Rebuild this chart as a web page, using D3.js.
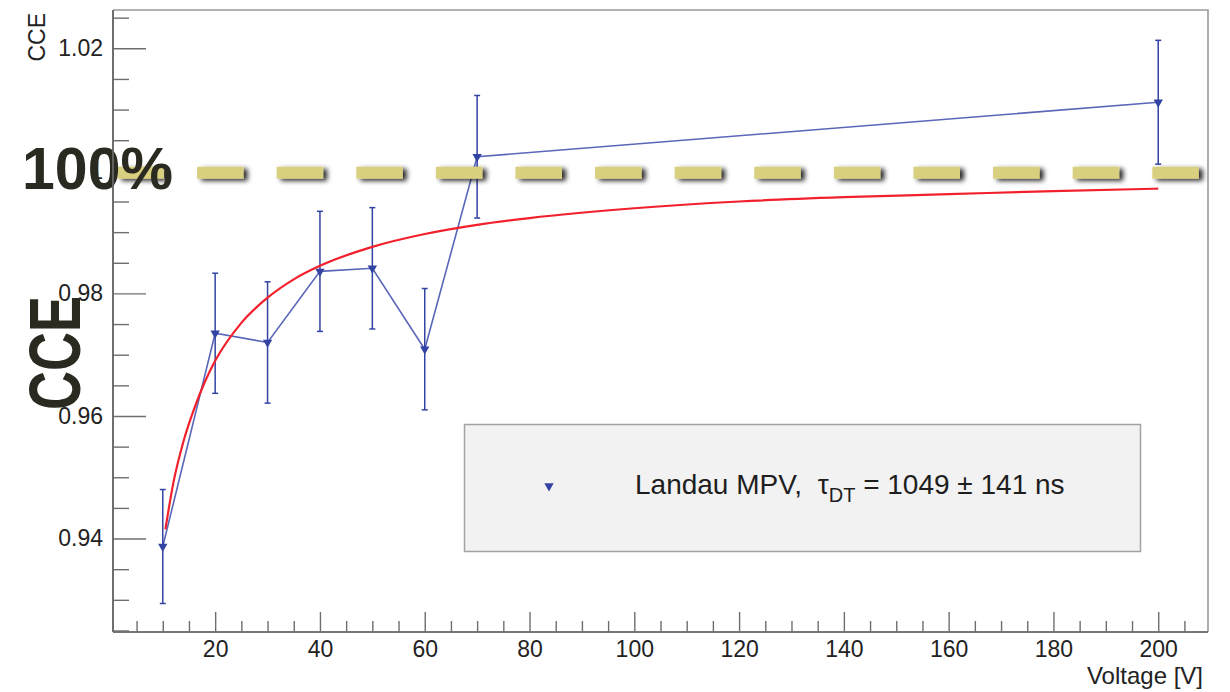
<!DOCTYPE html>
<html>
<head>
<meta charset="utf-8">
<script src="https://cdn.jsdelivr.net/npm/d3@7"></script>
<style>
  html, body { margin: 0; padding: 0; background: #fff; }
  svg { display: block; font-family: "Liberation Sans", Arial, sans-serif; }
</style>
</head>
<body>
<svg id="chart" width="1230" height="692"></svg>
<script>
// ---- data ----
const voltages = [10, 20, 30, 40, 50, 60, 70, 200];
const cceValues = [0.9387, 0.9735, 0.9720, 0.9836, 0.9841, 0.9709, 1.0023, 1.0112];
const cceErrors = [0.0093, 0.0098, 0.0099, 0.0098, 0.0099, 0.0099, 0.0100, 0.0101];

// fitted curve
const fitVoltages = [10.5, 12, 14, 16, 18, 20, 25, 30, 35, 40, 50, 60, 70, 80, 100, 120, 140, 160, 180, 200];
const fitValues = [0.9415, 0.9490, 0.9560, 0.9612, 0.9655, 0.9690, 0.9752, 0.9793, 0.9823, 0.9845,
                   0.9876, 0.9897, 0.9912, 0.9923, 0.9939, 0.9950, 0.9957, 0.9962, 0.9967, 0.9971];

const xMajorTicks = [20, 40, 60, 80, 100, 120, 140, 160, 180, 200];
const yMajorTicks = [0.94, 0.96, 0.98, 1.00, 1.02];
const yTickLabels = ["0.94", "0.96", "0.98", "1", "1.02"];
const referenceLevel = 1.00;
const referenceLabel = "100%";
const xTitle = "Voltage [V]";
const yTitle = "CCE";
const bigYTitle = "CCE";
const legendMain = "Landau MPV,  τ";
const legendSub = "DT";
const legendTail = " = 1049 ± 141 ns";

// ---- layout ----
const svg = d3.select("#chart");
const L = 113, R = 1208, T = 10, B = 632;
const x = d3.scaleLinear().domain([0.5, 209.5]).range([L, R]);
const y = d3.scaleLinear().domain([0.92475, 1.02625]).range([B, T]);

const defs = svg.append("defs");
const f = defs.append("filter").attr("id", "dashShadow")
  .attr("filterUnits", "userSpaceOnUse")
  .attr("x", 0).attr("y", 0).attr("width", 1230).attr("height", 692);
f.append("feGaussianBlur").attr("in", "SourceAlpha").attr("stdDeviation", 2.6).attr("result", "b");
f.append("feOffset").attr("in", "b").attr("dx", 4).attr("dy", 2).attr("result", "o");
f.append("feComponentTransfer").attr("in", "o").attr("result", "o2")
  .append("feFuncA").attr("type", "linear").attr("slope", 0.85);
const fm = f.append("feMerge");
fm.append("feMergeNode").attr("in", "o2");
fm.append("feMergeNode").attr("in", "SourceGraphic");

const axisColor = "#6e6e6e";
const tickFont = "23px";

// frame (top & right)
svg.append("path")
  .attr("d", `M${L},${T}H${R}V${B}`)
  .attr("fill", "none").attr("stroke", "#9a9a9a").attr("stroke-width", 1.6);

// x axis
const xMinor = d3.range(5, 210, 5).filter(v => !xMajorTicks.includes(v));
const gx = svg.append("g").attr("transform", `translate(0,${B})`);
gx.call(d3.axisBottom(x).tickValues(xMinor).tickSize(-11).tickFormat(""));
gx.append("g").call(d3.axisBottom(x).tickValues(xMajorTicks).tickSize(-20).tickPadding(9).tickFormat(d3.format("d")));
gx.selectAll("path.domain").attr("stroke", axisColor).attr("stroke-width", 1.6).attr("d", `M${L},0H${R}`);
gx.selectAll(".tick line").attr("stroke", axisColor).attr("stroke-width", 1.4);
gx.selectAll(".tick text").attr("fill", "#222").style("font-size", tickFont)
  .style("font-family", "'Liberation Sans', Arial, sans-serif");

// y axis
const yMinor = d3.range(0.925, 1.0255, 0.005).filter(v => !yMajorTicks.some(t => Math.abs(t - v) < 1e-6));
const gy = svg.append("g").attr("transform", `translate(${L},0)`);
gy.call(d3.axisLeft(y).tickValues(yMinor).tickSize(-16).tickFormat(""));
gy.append("g").call(d3.axisLeft(y).tickValues(yMajorTicks).tickSize(-33).tickPadding(10)
  .tickFormat((d, i) => yTickLabels[i]));
gy.selectAll("path.domain").attr("stroke", axisColor).attr("stroke-width", 1.6).attr("d", `M0,${T}V${B}`);
gy.selectAll(".tick line").attr("stroke", axisColor).attr("stroke-width", 1.4);
gy.selectAll(".tick text").attr("fill", "#222").style("font-size", tickFont)
  .style("font-family", "'Liberation Sans', Arial, sans-serif");

// axis titles
svg.append("text").attr("x", 1203).attr("y", 684).attr("text-anchor", "end")
  .attr("fill", "#222").style("font-size", "24px").text(xTitle);
svg.append("text").attr("transform", `translate(45,${T + 3}) rotate(-90)`).attr("text-anchor", "end")
  .attr("fill", "#222").style("font-size", "23px").text(yTitle);

// data: connecting line
const blueLine = "#5a67b8", blueDark = "#3343a3";
svg.append("path")
  .datum(voltages.map((v, i) => [v, cceValues[i]]))
  .attr("d", d3.line().x(d => x(d[0])).y(d => y(d[1])))
  .attr("fill", "none").attr("stroke", blueLine).attr("stroke-width", 1.6);

// error bars
const eb = svg.append("g");
voltages.forEach((v, i) => {
  const cx = x(v), y1 = y(cceValues[i] + cceErrors[i]), y2 = y(cceValues[i] - cceErrors[i]);
  eb.append("line").attr("x1", cx).attr("x2", cx).attr("y1", y1).attr("y2", y2)
    .attr("stroke", blueDark).attr("stroke-width", 1.5);
  [y1, y2].forEach(yy => eb.append("line").attr("x1", cx - 3).attr("x2", cx + 3).attr("y1", yy).attr("y2", yy)
    .attr("stroke", blueDark).attr("stroke-width", 1.5));
});

// markers (inverted triangles)
const tri = d3.symbol().type(d3.symbolTriangle).size(38);
svg.append("g").selectAll("path").data(voltages).join("path")
  .attr("d", tri)
  .attr("transform", (v, i) => `translate(${x(v)},${y(cceValues[i])}) rotate(180)`)
  .attr("fill", blueDark);

// fit curve
svg.append("path")
  .datum(fitVoltages.map((v, i) => [v, fitValues[i]]))
  .attr("d", d3.line().curve(d3.curveMonotoneX).x(d => x(d[0])).y(d => y(d[1])))
  .attr("fill", "none").attr("stroke", "#f2202c").attr("stroke-width", 2.2);

// legend
const lg = svg.append("g");
lg.append("rect").attr("x", 464.5).attr("y", 424.5).attr("width", 676).attr("height", 127)
  .attr("fill", "#f2f2f2").attr("stroke", "#a3a3a3").attr("stroke-width", 1.5);
lg.append("path").attr("d", tri).attr("transform", "translate(549,486) rotate(180)").attr("fill", blueDark);
const lt = lg.append("text").attr("x", 635).attr("y", 494).attr("fill", "#1e1e1e")
  .style("font-size", "28px").style("white-space", "pre");
lt.append("tspan").text(legendMain);
lt.append("tspan").attr("dy", 8).style("font-size", "20px").text(legendSub);
lt.append("tspan").attr("dy", -8).text(legendTail);

// 100% reference dashed band
svg.append("line")
  .attr("x1", 117.5).attr("x2", 1199)
  .attr("y1", y(referenceLevel) + 2).attr("y2", y(referenceLevel) + 2)
  .attr("stroke", "#d9d07f").attr("stroke-width", 12)
  .attr("stroke-dasharray", "46.5 33.1")
  .attr("filter", "url(#dashShadow)");

// big annotation labels
svg.append("text").attr("x", 22).attr("y", 189)
  .attr("fill", "#2b2a20").style("font-size", "59px").style("font-weight", "bold").text(referenceLabel);
svg.append("text").attr("transform", "translate(80,353) rotate(-90) scale(0.74,1)")
  .attr("text-anchor", "middle")
  .attr("fill", "#2b2a20").style("font-size", "73px").style("font-weight", "bold").text(bigYTitle);

// left axis line stays visible over the annotation
svg.append("line").attr("x1", L).attr("x2", L).attr("y1", T).attr("y2", B)
  .attr("stroke", axisColor).attr("stroke-width", 1.6);
</script>
</body>
</html>
